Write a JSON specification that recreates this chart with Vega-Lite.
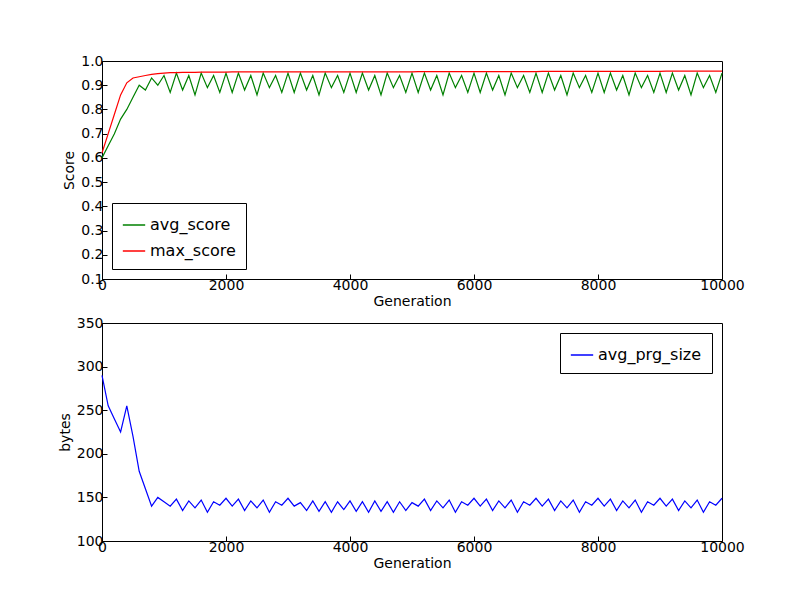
{
  "$schema": "https://vega.github.io/schema/vega-lite/v6.json",
  "background": "white",
  "padding": {"left": 57, "top": 53, "right": 5, "bottom": 5},
  "config": {
    "font": "DejaVu Sans",
    "view": {"stroke": "black", "strokeWidth": 1},
    "concat": {"spacing": 6},
    "axis": {"grid": false, "domainColor": "black", "tickColor": "black", "tickSize": -5, "labelFontSize": 14, "labelColor": "black", "titleFontSize": 14, "titleFontWeight": "normal", "titleColor": "black", "labelPadding": 4, "labelFlush": false},
    "legend": {"labelFontSize": 16, "symbolType": "stroke", "symbolSize": 500, "strokeColor": "black", "fillColor": "white", "padding": 10, "title": null, "rowPadding": 6}
  },
  "datasets": {
    "runs": [
      {"g":0,"avg_score":0.6,"max_score":0.62,"size":290},
      {"g":100,"avg_score":0.65,"max_score":0.7,"size":255},
      {"g":200,"avg_score":0.7,"max_score":0.78,"size":240},
      {"g":300,"avg_score":0.76,"max_score":0.86,"size":225},
      {"g":400,"avg_score":0.8,"max_score":0.91,"size":255},
      {"g":500,"avg_score":0.85,"max_score":0.93,"size":220},
      {"g":600,"avg_score":0.9,"max_score":0.935,"size":180},
      {"g":700,"avg_score":0.88,"max_score":0.94,"size":160},
      {"g":800,"avg_score":0.93,"max_score":0.945,"size":140},
      {"g":900,"avg_score":0.9,"max_score":0.948,"size":150},
      {"g":1000,"avg_score":0.94,"max_score":0.95,"size":145},
      {"g":1100,"avg_score":0.87,"max_score":0.952,"size":140},
      {"g":1200,"avg_score":0.95,"max_score":0.952,"size":148},
      {"g":1300,"avg_score":0.88,"max_score":0.953,"size":135},
      {"g":1400,"avg_score":0.94,"max_score":0.953,"size":146},
      {"g":1500,"avg_score":0.86,"max_score":0.953,"size":138},
      {"g":1600,"avg_score":0.95,"max_score":0.954,"size":147},
      {"g":1700,"avg_score":0.89,"max_score":0.954,"size":133},
      {"g":1800,"avg_score":0.94,"max_score":0.954,"size":145},
      {"g":1900,"avg_score":0.87,"max_score":0.954,"size":141},
      {"g":2000,"avg_score":0.95,"max_score":0.954,"size":149},
      {"g":2100,"avg_score":0.87,"max_score":0.955,"size":140},
      {"g":2200,"avg_score":0.95,"max_score":0.955,"size":148},
      {"g":2300,"avg_score":0.88,"max_score":0.955,"size":135},
      {"g":2400,"avg_score":0.94,"max_score":0.955,"size":146},
      {"g":2500,"avg_score":0.86,"max_score":0.955,"size":138},
      {"g":2600,"avg_score":0.95,"max_score":0.955,"size":147},
      {"g":2700,"avg_score":0.89,"max_score":0.955,"size":133},
      {"g":2800,"avg_score":0.94,"max_score":0.955,"size":145},
      {"g":2900,"avg_score":0.87,"max_score":0.955,"size":141},
      {"g":3000,"avg_score":0.95,"max_score":0.955,"size":149},
      {"g":3100,"avg_score":0.87,"max_score":0.955,"size":140},
      {"g":3200,"avg_score":0.95,"max_score":0.955,"size":144},
      {"g":3300,"avg_score":0.88,"max_score":0.955,"size":135},
      {"g":3400,"avg_score":0.94,"max_score":0.955,"size":146},
      {"g":3500,"avg_score":0.86,"max_score":0.955,"size":134},
      {"g":3600,"avg_score":0.95,"max_score":0.955,"size":145},
      {"g":3700,"avg_score":0.89,"max_score":0.955,"size":133},
      {"g":3800,"avg_score":0.94,"max_score":0.955,"size":145},
      {"g":3900,"avg_score":0.87,"max_score":0.955,"size":136},
      {"g":4000,"avg_score":0.95,"max_score":0.955,"size":146},
      {"g":4100,"avg_score":0.87,"max_score":0.955,"size":134},
      {"g":4200,"avg_score":0.95,"max_score":0.955,"size":145},
      {"g":4300,"avg_score":0.88,"max_score":0.955,"size":133},
      {"g":4400,"avg_score":0.94,"max_score":0.955,"size":146},
      {"g":4500,"avg_score":0.86,"max_score":0.955,"size":134},
      {"g":4600,"avg_score":0.95,"max_score":0.955,"size":145},
      {"g":4700,"avg_score":0.89,"max_score":0.955,"size":133},
      {"g":4800,"avg_score":0.94,"max_score":0.955,"size":145},
      {"g":4900,"avg_score":0.87,"max_score":0.955,"size":135},
      {"g":5000,"avg_score":0.95,"max_score":0.955,"size":144},
      {"g":5100,"avg_score":0.87,"max_score":0.956,"size":140},
      {"g":5200,"avg_score":0.95,"max_score":0.956,"size":148},
      {"g":5300,"avg_score":0.88,"max_score":0.956,"size":135},
      {"g":5400,"avg_score":0.94,"max_score":0.956,"size":146},
      {"g":5500,"avg_score":0.86,"max_score":0.956,"size":138},
      {"g":5600,"avg_score":0.95,"max_score":0.956,"size":147},
      {"g":5700,"avg_score":0.89,"max_score":0.956,"size":133},
      {"g":5800,"avg_score":0.94,"max_score":0.956,"size":145},
      {"g":5900,"avg_score":0.87,"max_score":0.956,"size":141},
      {"g":6000,"avg_score":0.95,"max_score":0.956,"size":149},
      {"g":6100,"avg_score":0.87,"max_score":0.956,"size":140},
      {"g":6200,"avg_score":0.95,"max_score":0.956,"size":148},
      {"g":6300,"avg_score":0.88,"max_score":0.956,"size":135},
      {"g":6400,"avg_score":0.94,"max_score":0.956,"size":146},
      {"g":6500,"avg_score":0.86,"max_score":0.956,"size":138},
      {"g":6600,"avg_score":0.95,"max_score":0.956,"size":147},
      {"g":6700,"avg_score":0.89,"max_score":0.956,"size":133},
      {"g":6800,"avg_score":0.94,"max_score":0.956,"size":145},
      {"g":6900,"avg_score":0.87,"max_score":0.956,"size":141},
      {"g":7000,"avg_score":0.95,"max_score":0.956,"size":149},
      {"g":7100,"avg_score":0.87,"max_score":0.957,"size":140},
      {"g":7200,"avg_score":0.95,"max_score":0.957,"size":148},
      {"g":7300,"avg_score":0.88,"max_score":0.957,"size":135},
      {"g":7400,"avg_score":0.94,"max_score":0.957,"size":146},
      {"g":7500,"avg_score":0.86,"max_score":0.957,"size":138},
      {"g":7600,"avg_score":0.95,"max_score":0.957,"size":147},
      {"g":7700,"avg_score":0.89,"max_score":0.957,"size":133},
      {"g":7800,"avg_score":0.94,"max_score":0.957,"size":145},
      {"g":7900,"avg_score":0.87,"max_score":0.957,"size":141},
      {"g":8000,"avg_score":0.95,"max_score":0.957,"size":149},
      {"g":8100,"avg_score":0.87,"max_score":0.957,"size":140},
      {"g":8200,"avg_score":0.95,"max_score":0.957,"size":148},
      {"g":8300,"avg_score":0.88,"max_score":0.957,"size":135},
      {"g":8400,"avg_score":0.94,"max_score":0.957,"size":146},
      {"g":8500,"avg_score":0.86,"max_score":0.957,"size":138},
      {"g":8600,"avg_score":0.95,"max_score":0.957,"size":147},
      {"g":8700,"avg_score":0.89,"max_score":0.957,"size":133},
      {"g":8800,"avg_score":0.94,"max_score":0.957,"size":145},
      {"g":8900,"avg_score":0.87,"max_score":0.957,"size":141},
      {"g":9000,"avg_score":0.95,"max_score":0.957,"size":149},
      {"g":9100,"avg_score":0.87,"max_score":0.958,"size":140},
      {"g":9200,"avg_score":0.95,"max_score":0.958,"size":148},
      {"g":9300,"avg_score":0.88,"max_score":0.958,"size":135},
      {"g":9400,"avg_score":0.94,"max_score":0.958,"size":146},
      {"g":9500,"avg_score":0.86,"max_score":0.958,"size":138},
      {"g":9600,"avg_score":0.95,"max_score":0.958,"size":147},
      {"g":9700,"avg_score":0.89,"max_score":0.958,"size":133},
      {"g":9800,"avg_score":0.94,"max_score":0.958,"size":145},
      {"g":9900,"avg_score":0.87,"max_score":0.958,"size":141},
      {"g":10000,"avg_score":0.95,"max_score":0.958,"size":149}
    ]
  },
  "vconcat": [
    {
      "width": 620,
      "height": 218,
      "data": {"name": "runs"},
      "transform": [{"fold": ["avg_score", "max_score"], "as": ["series", "score"]}],
      "mark": {"type": "line", "strokeWidth": 1.2},
      "encoding": {
        "x": {"field": "g", "type": "quantitative", "title": "Generation", "scale": {"domain": [0, 10000], "nice": false}, "axis": {"values": [0, 2000, 4000, 6000, 8000, 10000], "format": "d", "titlePadding": 2}},
        "y": {"field": "score", "type": "quantitative", "title": "Score", "scale": {"domain": [0.1, 1.0], "nice": false, "zero": false}, "axis": {"values": [0.1,0.2,0.3,0.4,0.5,0.6,0.7,0.8,0.9,1.0], "format": ".1f"}},
        "color": {"field": "series", "type": "nominal", "scale": {"domain": ["avg_score", "max_score"], "range": ["#008000", "#ff0000"]}, "legend": {"orient": "bottom-left", "offset": 10}},
        "order": {"field": "series", "sort": "descending"}
      }
    },
    {
      "width": 620,
      "height": 218,
      "data": {"name": "runs"},
      "transform": [{"fold": ["size"], "as": ["series", "bytes"]}, {"calculate": "'avg_prg_size'", "as": "series"}],
      "mark": {"type": "line", "strokeWidth": 1.2},
      "encoding": {
        "x": {"field": "g", "type": "quantitative", "title": "Generation", "scale": {"domain": [0, 10000], "nice": false}, "axis": {"values": [0, 2000, 4000, 6000, 8000, 10000], "format": "d", "titlePadding": 2}},
        "y": {"field": "bytes", "type": "quantitative", "title": "bytes", "scale": {"domain": [100, 350], "nice": false, "zero": false}, "axis": {"values": [100,150,200,250,300,350]}},
        "color": {"field": "series", "type": "nominal", "scale": {"domain": ["avg_prg_size"], "range": ["#0000ff"]}, "legend": {"orient": "top-right", "offset": 10}}
      }
    }
  ],
  "resolve": {"scale": {"color": "independent"}, "legend": {"color": "independent"}}
}
